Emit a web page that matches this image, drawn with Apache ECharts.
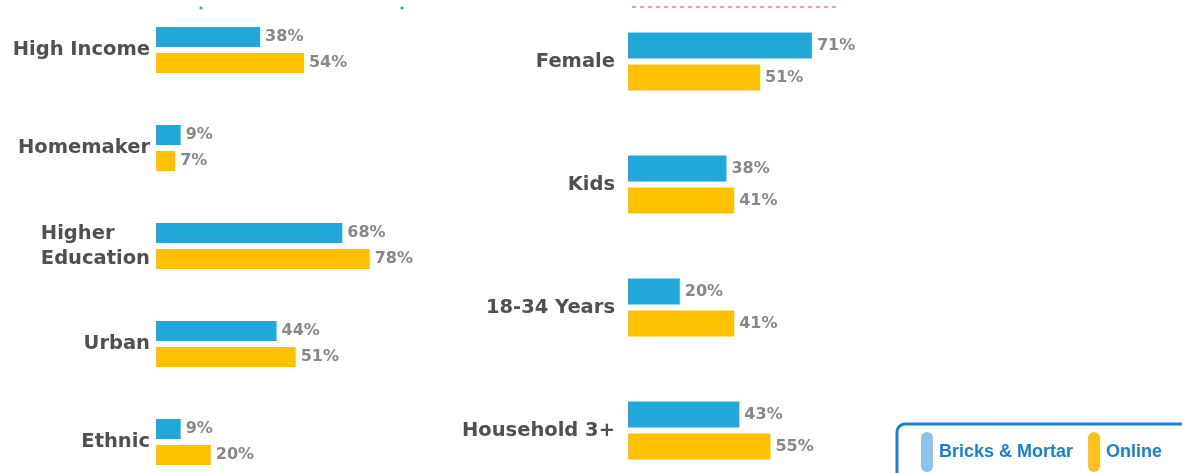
<!DOCTYPE html>
<html>
<head>
<meta charset="utf-8">
<script src="https://cdn.jsdelivr.net/npm/echarts@6/dist/echarts.min.js"></script>
<style>
  html, body { margin: 0; padding: 0; background: #fff; }
  #chart { width: 1182px; height: 473px; }
</style>
</head>
<body>
<div id="chart"></div>
<script>
// left panel
var leftCategories = ['High Income', 'Homemaker', 'Higher\nEducation', 'Urban', 'Ethnic'];
var leftBricks = [38, 9, 68, 44, 9];
var leftOnline = [54, 7, 78, 51, 20];

// right panel
var rightCategories = ['Female', 'Kids', '18-34 Years', 'Household 3+'];
var rightBricks = [71, 38, 20, 43];
var rightOnline = [51, 41, 41, 55];

var seriesNames = ['Bricks & Mortar', 'Online'];

var chart = echarts.init(document.getElementById('chart'));

var axisLabelStyle = {
  color: '#505050',
  fontFamily: 'DejaVu Sans',
  fontWeight: 'bold',
  fontSize: 19.5,
  lineHeight: 25
};

function valueLabel() {
  return {
    show: true,
    position: 'right',
    distance: 5,
    formatter: '{c}%',
    color: '#888',
    fontFamily: 'DejaVu Sans',
    fontWeight: 'bold',
    fontSize: 16
  };
}

var pill = 'path://M0,6 A6,6 0 0 1 12,6 L12,34 A6,6 0 0 1 0,34 Z';

var option = {
  animation: false,
  grid: [
    { left: 156, top: 1, width: 274, height: 490, outerBoundsMode: 'none', containLabel: false },
    { left: 628, top: 0, width: 259, height: 492, outerBoundsMode: 'none', containLabel: false }
  ],
  xAxis: [
    { gridIndex: 0, type: 'value', min: 0, max: 100, show: false },
    { gridIndex: 1, type: 'value', min: 0, max: 100, show: false }
  ],
  yAxis: [
    {
      gridIndex: 0, type: 'category', data: leftCategories, inverse: true,
      axisLine: { show: false }, axisTick: { show: false },
      axisLabel: Object.assign({
        margin: 6,
        formatter: function (v) {
          // keep two-line label left aligned like the original
          if (v.indexOf('\n') >= 0) {
            return v.split('\n').map(function (s) { return '{l|' + s + '}'; }).join('\n');
          }
          return v;
        },
        rich: {
          l: { align: 'left', color: '#505050', fontFamily: 'DejaVu Sans', fontWeight: 'bold', fontSize: 19.5, lineHeight: 25 }
        }
      }, axisLabelStyle)
    },
    {
      gridIndex: 1, type: 'category', data: rightCategories, inverse: true,
      axisLine: { show: false }, axisTick: { show: false },
      axisLabel: Object.assign({ margin: 13 }, axisLabelStyle)
    }
  ],
  legend: {
    left: 897,
    top: 424,
    width: 400,
    orient: 'horizontal',
    padding: [8, 40, 20, 24],
    itemGap: 15,
    itemWidth: 12,
    itemHeight: 40,
    borderColor: '#1a82d4',
    borderWidth: 3,
    borderRadius: 8,
    icon: pill,
    textStyle: {
      color: '#1b7fd3',
      fontFamily: 'Liberation Sans',
      fontWeight: 'bold',
      fontSize: 18,
      padding: [0, 0, 0, 1]
    },
    data: [
      { name: seriesNames[0], itemStyle: { color: '#8cc4ec' } },
      { name: seriesNames[1], itemStyle: { color: '#ffc11e' } }
    ]
  },
  graphic: [
    { type: 'circle', shape: { cx: 201, cy: 8, r: 1.6 }, style: { fill: '#2aa6dc' } },
    { type: 'circle', shape: { cx: 402, cy: 8, r: 1.6 }, style: { fill: '#2aa6dc' } },
    {
      type: 'line', shape: { x1: 632, y1: 7, x2: 838, y2: 7 },
      style: { stroke: '#e8474b', lineWidth: 1, lineDash: [4, 4] }
    }
  ],
  series: [
    {
      name: seriesNames[0], type: 'bar', xAxisIndex: 0, yAxisIndex: 0,
      data: leftBricks, barWidth: 20, barGap: '30%',
      itemStyle: { color: '#21a8d9' }, label: valueLabel()
    },
    {
      name: seriesNames[1], type: 'bar', xAxisIndex: 0, yAxisIndex: 0,
      data: leftOnline, barWidth: 20, barGap: '30%',
      itemStyle: { color: '#ffc000' }, label: valueLabel()
    },
    {
      name: seriesNames[0], type: 'bar', xAxisIndex: 1, yAxisIndex: 1,
      data: rightBricks, barWidth: 26, barGap: '23%',
      itemStyle: { color: '#21a8d9' }, label: valueLabel()
    },
    {
      name: seriesNames[1], type: 'bar', xAxisIndex: 1, yAxisIndex: 1,
      data: rightOnline, barWidth: 26, barGap: '23%',
      itemStyle: { color: '#ffc000' }, label: valueLabel()
    }
  ]
};

option && chart.setOption(option);
</script>
</body>
</html>
